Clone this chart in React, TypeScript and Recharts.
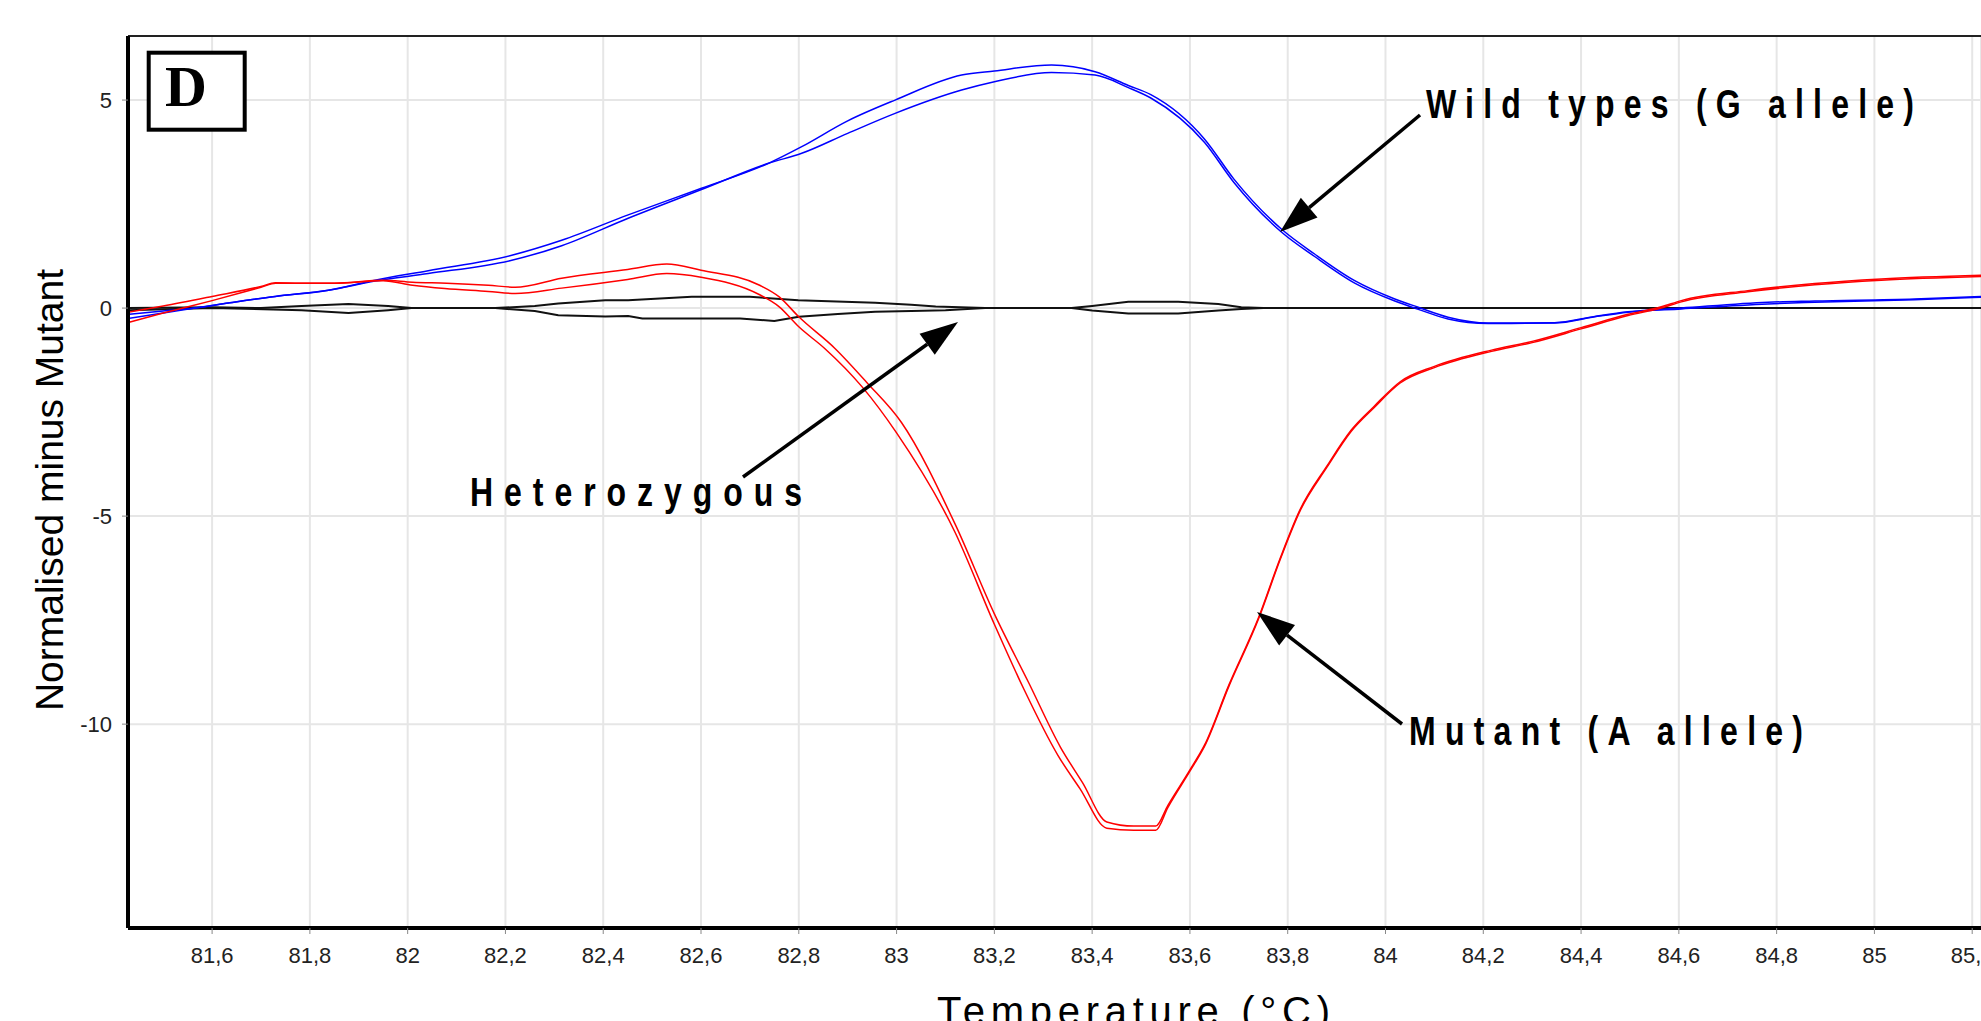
import React from "react";
import { LineChart, Line, XAxis, YAxis, CartesianGrid, ReferenceLine } from "recharts";

// temperature ticks (°C) and y ticks
const tempTicks = [81.6, 81.8, 82, 82.2, 82.4, 82.6, 82.8, 83, 83.2, 83.4, 83.6, 83.8, 84, 84.2, 84.4, 84.6, 84.8, 85, 85.2];
const valueTicks = [-10, -5, 0, 5];

// [temperature, normalised minus mutant]
const wildType1 = [
  [81.428, -0.15], [81.5, -0.07], [81.565, 0.0], [81.633, 0.12], [81.729, 0.28], [81.838, 0.43], [81.933, 0.67],
  [82.042, 0.9], [82.213, 1.27], [82.315, 1.63], [82.451, 2.24], [82.601, 2.88], [82.738, 3.48], [82.806, 3.88],
  [82.9, 4.5], [82.997, 5.0], [83.133, 5.6], [83.2, 5.7], [83.317, 5.84], [83.406, 5.68], [83.474, 5.35],
  [83.52, 5.13], [83.63, 4.06], [83.69, 3.1], [83.787, 1.9], [83.855, 1.3], [83.937, 0.66], [84.019, 0.22],
  [84.067, 0.02], [84.128, -0.22], [84.21, -0.36], [84.346, -0.35], [84.428, -0.2], [84.496, -0.09],
  [84.605, 0.0], [84.782, 0.14], [84.878, 0.17], [85.082, 0.22], [85.218, 0.28],
];
const wildType2 = [
  [81.428, -0.25], [81.5, -0.12], [81.565, 0.0], [81.633, 0.12], [81.729, 0.28], [81.838, 0.43], [81.933, 0.65],
  [82.042, 0.83], [82.213, 1.15], [82.315, 1.5], [82.451, 2.16], [82.601, 2.85], [82.738, 3.48], [82.806, 3.72],
  [82.9, 4.2], [82.997, 4.68], [83.133, 5.24], [83.2, 5.44], [83.317, 5.66], [83.406, 5.6], [83.474, 5.3],
  [83.52, 5.05], [83.63, 3.98], [83.69, 3.02], [83.787, 1.83], [83.855, 1.24], [83.937, 0.6], [84.019, 0.17],
  [84.067, -0.03], [84.128, -0.26], [84.21, -0.37], [84.346, -0.36], [84.428, -0.21], [84.496, -0.1],
  [84.605, -0.02], [84.782, 0.1], [84.878, 0.14], [85.082, 0.2], [85.218, 0.26],
];
const mutant1 = [
  [81.428, -0.1], [81.5, 0.05], [81.6, 0.28], [81.7, 0.52], [81.73, 0.61], [81.78, 0.6], [81.85, 0.6],
  [81.95, 0.67], [82.01, 0.62], [82.08, 0.6], [82.165, 0.55], [82.22, 0.5], [82.315, 0.72], [82.45, 0.93],
  [82.53, 1.06], [82.6, 0.91], [82.72, 0.55], [82.76, 0.27], [82.8, -0.21], [82.874, -0.97], [82.94, -1.8],
  [83.01, -2.75], [83.12, -5.2], [83.2, -7.35], [83.27, -9.0], [83.335, -10.55], [83.38, -11.4], [83.43, -12.35],
  [83.485, -12.45], [83.53, -12.45], [83.555, -11.95], [83.6, -11.1], [83.63, -10.5], [83.68, -9.05],
  [83.74, -7.45], [83.785, -6.0], [83.825, -4.85], [83.88, -3.8], [83.93, -2.93], [83.976, -2.37], [84.03, -1.77],
  [84.1, -1.4], [84.217, -1.01], [84.3, -0.8], [84.4, -0.47], [84.496, -0.15], [84.564, 0.03], [84.605, 0.18],
  [84.741, 0.42], [84.878, 0.59], [85.014, 0.7], [85.218, 0.79],
];
const mutant2 = [
  [81.428, -0.35], [81.5, -0.12], [81.6, 0.18], [81.7, 0.5], [81.73, 0.6], [81.78, 0.6], [81.85, 0.6],
  [81.95, 0.66], [82.01, 0.55], [82.076, 0.47], [82.165, 0.4], [82.22, 0.35], [82.315, 0.48], [82.45, 0.69],
  [82.53, 0.83], [82.6, 0.74], [82.72, 0.32], [82.76, 0.03], [82.8, -0.45], [82.853, -0.97], [82.93, -1.9],
  [83.0, -3.0], [83.12, -5.4], [83.2, -7.6], [83.26, -9.15], [83.33, -10.75], [83.375, -11.55], [83.43, -12.5],
  [83.485, -12.55], [83.53, -12.55], [83.555, -12.0], [83.6, -11.13], [83.63, -10.53], [83.68, -9.08],
  [83.74, -7.48], [83.785, -6.03], [83.825, -4.88], [83.88, -3.83], [83.93, -2.96], [83.976, -2.4], [84.03, -1.8],
  [84.1, -1.43], [84.217, -1.04], [84.3, -0.83], [84.4, -0.5], [84.496, -0.18], [84.564, 0.0], [84.605, 0.15],
  [84.741, 0.39], [84.878, 0.56], [85.014, 0.67], [85.218, 0.76],
];
const hetero1 = [
  [81.428, 0.0], [81.6, 0.02], [81.7, 0.0], [81.783, 0.05], [81.879, 0.1], [81.96, 0.05], [82.008, 0.0],
  [82.179, 0.0], [82.26, 0.05], [82.308, 0.11], [82.404, 0.19], [82.451, 0.19], [82.581, 0.27], [82.7, 0.27],
  [82.799, 0.19], [82.956, 0.13], [83.03, 0.08], [83.08, 0.04], [83.181, 0.0], [83.358, 0.0], [83.4, 0.05],
  [83.474, 0.15], [83.576, 0.15], [83.658, 0.1], [83.705, 0.02], [83.75, 0.0], [85.218, 0.0],
];
const hetero2 = [
  [81.428, -0.05], [81.6, 0.0], [81.783, -0.05], [81.879, -0.12], [81.96, -0.05], [82.008, 0.0], [82.179, 0.0],
  [82.26, -0.07], [82.308, -0.17], [82.404, -0.2], [82.451, -0.19], [82.48, -0.25], [82.68, -0.25], [82.75, -0.31],
  [82.8, -0.21], [82.88, -0.14], [82.956, -0.09], [83.03, -0.07], [83.1, -0.05], [83.181, 0.0], [83.358, 0.0],
  [83.4, -0.06], [83.474, -0.13], [83.576, -0.13], [83.658, -0.06], [83.705, -0.02], [83.75, 0.0], [85.218, 0.0],
];

const toPoints = (arr: number[][]) => arr.map(([t, v]) => ({ t, v }));

const FONT = "'Liberation Sans', Arial, sans-serif";

const Arrow = ({ x1, y1, x2, y2 }: { x1: number; y1: number; x2: number; y2: number }) => {
  const a = Math.atan2(y2 - y1, x2 - x1);
  const len = 38;
  const half = 13;
  const bx = x2 - len * Math.cos(a);
  const by = y2 - len * Math.sin(a);
  const px = -Math.sin(a) * half;
  const py = Math.cos(a) * half;
  return (
    <g>
      <line x1={x1} y1={y1} x2={bx} y2={by} stroke="#000" strokeWidth={3.5} />
      <polygon points={`${x2},${y2} ${bx + px},${by + py} ${bx - px},${by - py}`} fill="#000" />
    </g>
  );
};

const Note = ({ x, y, width, text }: { x: number; y: number; width: number; text: string }) => (
  <text
    transform={`translate(${x},${y}) scale(0.8,1)`}
    fontSize={40}
    fontWeight="bold"
    fontFamily={FONT}
    fill="#000"
    textLength={width / 0.8}
    lengthAdjust="spacing"
  >
    {text}
  </text>
);

const series = [
  { name: "het1", data: toPoints(hetero1), color: "#111", width: 2 },
  { name: "het2", data: toPoints(hetero2), color: "#111", width: 2 },
  { name: "wild1", data: toPoints(wildType1), color: "#0000ff", width: 1.5 },
  { name: "wild2", data: toPoints(wildType2), color: "#0000ff", width: 1.5 },
  { name: "mut1", data: toPoints(mutant1), color: "#ff0000", width: 1.5 },
  { name: "mut2", data: toPoints(mutant2), color: "#ff0000", width: 1.5 },
];

export default function App() {
  return (
    <div style={{ position: "fixed", left: 0, top: 0, width: 1981, height: 1021, background: "#fff", overflow: "hidden" }}>
      <LineChart width={1981} height={1021} margin={{ top: 36, right: 0, bottom: 0, left: 0 }}>
        <CartesianGrid stroke="#e6e6e6" strokeWidth={2} />
        <XAxis
          type="number"
          dataKey="t"
          domain={[81.428, 85.218]}
          allowDataOverflow
          ticks={tempTicks}
          interval={0}
          height={93}
          tickFormatter={(v: number) => String(v).replace(".", ",")}
          axisLine={{ stroke: "#000", strokeWidth: 4 }}
          tickLine={{ stroke: "#888" }}
          tickSize={6}
          tickMargin={13}
          tick={{ fontSize: 22, fill: "#222", fontFamily: FONT }}
        />
        <YAxis
          type="number"
          dataKey="v"
          domain={[-14.9, 6.54]}
          allowDataOverflow
          ticks={valueTicks}
          interval={0}
          width={128}
          axisLine={{ stroke: "#000", strokeWidth: 4 }}
          tickLine={{ stroke: "#888" }}
          tickSize={6}
          tickMargin={10}
          tick={{ fontSize: 22, fill: "#222", fontFamily: FONT }}
        />
        <ReferenceLine y={6.54} stroke="#222" strokeWidth={2} />
        {series.map((s) => (
          <Line
            key={s.name}
            data={s.data}
            dataKey="v"
            type={s.name.startsWith("het") ? "linear" : "monotone"}
            stroke={s.color}
            strokeWidth={s.width}
            dot={false}
            activeDot={false}
            isAnimationActive={false}
          />
        ))}
      </LineChart>
      <svg width={1981} height={1021} style={{ position: "absolute", left: 0, top: 0, pointerEvents: "none" }}>
        <rect x={148.7} y={52.7} width={96} height={77} fill="#fff" stroke="#000" strokeWidth={4} />
        <text x={186} y={106} textAnchor="middle" fontSize={58} fontWeight="bold" fontFamily="'Liberation Serif', 'Times New Roman', serif">
          D
        </text>
        <text
          transform="translate(63,490) rotate(-90)"
          textAnchor="middle"
          fontSize={39}
          fontFamily={FONT}
          fill="#000"
        >
          Normalised minus Mutant
        </text>
        <text x={937} y={1025} fontSize={40} fontFamily={FONT} fill="#000" textLength={393} lengthAdjust="spacing">
          Temperature (°C)
        </text>
        <Note x={1426} y={118} width={488} text="Wild types (G allele)" />
        <Note x={470} y={506} width={332} text="Heterozygous" />
        <Note x={1409} y={745} width={394} text="Mutant (A allele)" />
        <Arrow x1={1420} y1={115} x2={1280} y2={232} />
        <Arrow x1={743} y1={477} x2={958} y2={322} />
        <Arrow x1={1402} y1={724} x2={1257} y2={612} />
      </svg>
    </div>
  );
}
